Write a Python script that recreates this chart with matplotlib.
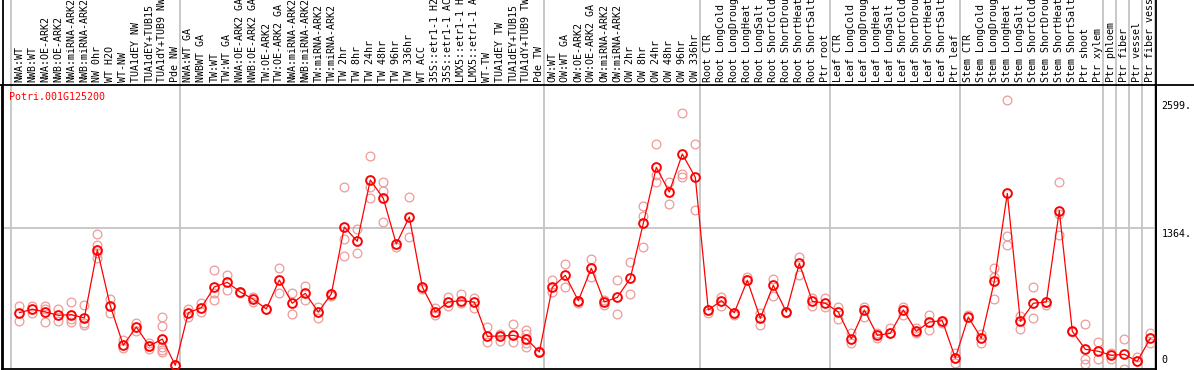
import numpy as np
import matplotlib.pyplot as plt

# column labels (top strip, clipped at top like the original)
labels = ['NWA:WT', 'NWB:WT', 'NWA:OE-ARK2', 'NWB:OE-ARK2', 'NWA:miRNA-ARK2', 'NWB:miRNA-ARK2',
          'NW 0hr', 'WT H2O', 'WT-NW', 'TUA1dEY NW', 'TUA1dEY+TUB15', 'TUA1dY+TUB9 NW', 'Pde NW',
          'NWA:WT GA', 'NWBWT GA', 'TW:WT', 'TW:WT GA', 'NWA:OE-ARK2 GA', 'NWB:OE-ARK2 GA',
          'TW:OE-ARK2', 'TW:OE-ARK2 GA', 'NWA:miRNA-ARK2', 'NWB:miRNA-ARK2', 'TW:miRNA-ARK2',
          'TW:miRNA-ARK2', 'TW 2hr', 'TW 8hr', 'TW 24hr', 'TW 48hr', 'TW 96hr', 'TW 336hr',
          'WT ACC', '35S::etr1-1 H2', '35S::etr1-1 AC', 'LMX5::etr1-1 H', 'LMX5::etr1-1 A',
          'WT-TW', 'TUA1dEY TW', 'TUA1dEY+TUB15', 'TUA1dY+TUB9 TW', 'Pde TW',
          'OW:WT', 'OW:WT GA', 'OW:OE-ARK2', 'OW:OE-ARK2 GA', 'OW:miRNA-ARK2', 'OW:miRNA-ARK2',
          'OW 2hr', 'OW 8hr', 'OW 24hr', 'OW 48hr', 'OW 96hr', 'OW 336hr',
          'Root CTR', 'Root LongCold', 'Root LongDroug', 'Root LongHeat', 'Root LongSalt',
          'Root ShortCold', 'Root ShortDrou', 'Root ShortHeat', 'Root ShortSalt', 'Ptr root',
          'Leaf CTR', 'Leaf LongCold', 'Leaf LongDroug', 'Leaf LongHeat', 'Leaf LongSalt',
          'Leaf ShortCold', 'Leaf ShortDrou', 'Leaf ShortHeat', 'Leaf ShortSalt', 'Ptr leaf',
          'Stem CTR', 'Stem LongCold', 'Stem LongDroug', 'Stem LongHeat', 'Stem LongSalt',
          'Stem ShortCold', 'Stem ShortDrou', 'Stem ShortHeat', 'Stem ShortSalt', 'Ptr shoot',
          'Ptr xylem', 'Ptr phloem', 'Ptr fiber', 'Ptr vessel', 'Ptr fiber vess']

group_sizes = [13, 28, 12, 10, 10, 11, 1, 1, 1, 1]

means = [543, 576, 550, 518, 524, 492, 1148, 608, 229, 405, 222, 289, 36,
         543, 591, 791, 836, 743, 672, 579, 858, 634, 730, 550, 723, 1369, 1232, 1823, 1646,
         1206, 1466, 791, 550, 646, 659, 646, 315, 318, 325, 292, 164,
         788, 904, 659, 971, 646, 691, 875, 1405, 1945, 1707, 2073, 1849,
         569, 659, 543, 855, 489, 807, 550, 1019, 653, 634,
         550, 292, 569, 325, 344, 569, 364, 453, 466, 106,
         501, 296, 846, 1694, 460, 634, 646, 1527, 364, 190, 171,
         132, 142, 74, 296]

reps = [[608, 460], [608, 537], [608, 582, 453], [576, 460], [646, 485, 453],
        [614, 441, 427], [1302, 1196, 1116, 1068], [672, 537], [280, 203], [441, 369],
        [248, 196], [499, 412, 215, 183, 164], [36, 36],
        [582, 499], [634, 553], [952, 736, 665], [907, 762], [743, 733], [697, 646],
        [579, 579], [974, 733], [730, 530], [800, 665], [595, 492], [704, 723],
        [1752, 1254, 1090], [1347, 1116], [2054, 1758, 1646], [1803, 1714, 1415],
        [1179, 1206], [1659, 1270], [772, 791], [585, 518], [691, 608], [723, 634],
        [685, 585], [402, 260], [338, 273], [431, 260], [376, 338, 248, 209], [171, 164],
        [858, 743], [1013, 788], [634, 659], [1058, 884], [665, 617], [855, 530],
        [1032, 723], [1572, 1476, 1174], [2170, 1868, 1806], [1806, 1591],
        [2466, 1881, 1855], [2170, 1533],
        [543, 569], [691, 608], [518, 543], [890, 855], [537, 427], [871, 704], [537, 550],
        [1077, 904], [685, 608], [685, 595],
        [601, 479], [344, 248], [595, 504], [344, 302], [395, 344], [595, 518], [395, 344],
        [518, 376], [441, 466], [151, 61],
        [518, 501], [338, 254], [974, 884, 678], [2599, 1283, 1193], [511, 383], [788, 495],
        [620, 646], [1801, 1495, 1295], [354, 364], [434, 99, 48], [257, 94],
        [151, 99], [286, 0], [113, 74], [350, 248]]

ytick_vals = [2599, 1364, 0]

mono = 'DejaVu Sans Mono'
fs = 7.2
grid_c = '#c4c4c4'
pink = '#ee9a9a'

fig = plt.figure(figsize=(11.94, 3.70), dpi=100)
W, H = 1194.0, 370.0

x = np.arange(len(means))
xl = (-1.331, 87.438)
bounds = np.concatenate([[0], np.cumsum(group_sizes)]) - 0.638

# main plot area
ax = fig.add_axes([2 / W, 1 / H, 1154 / W, 284 / H])
ax.set_xlim(*xl)
ax.set_ylim(0, 2739)
for b in bounds:
    ax.axvline(b, color=grid_c, lw=1.3, zorder=0)
ax.axhline(1364, color=grid_c, lw=1.3, zorder=0)

for i, r in enumerate(reps):
    ax.plot([i] * len(r), r, 'o', ms=6.3, mfc='none', mec=pink, mew=0.9, zorder=2)
ax.plot(x, means, '-', color='red', lw=0.9, zorder=3)
ax.plot(x, means, 'o', ms=6.3, mfc='none', mec='red', mew=1.4, zorder=4)

ax.set_xticks([])
ax.set_yticks([])
for s in ['top', 'right']:
    ax.spines[s].set_visible(False)
ax.spines['left'].set_linewidth(1.3)
ax.spines['bottom'].set_linewidth(1.3)
ax.axvline(xl[1], color='black', lw=1.3, zorder=5, clip_on=False)

ax.text(0.0063, 0.975, 'Potri.001G125200', transform=ax.transAxes, color='red',
        family=mono, fontsize=fs, va='top', ha='left')

for v in ytick_vals:
    va = 'bottom' if v == 0 else 'top'
    dy = 4 if v == 0 else -1
    ax.annotate(('%d.' % v) if v else '0', xy=(1.0, v), xycoords=('axes fraction', 'data'),
                xytext=(5.5, dy), textcoords='offset pixels', family=mono, fontsize=fs,
                va=va, ha='left', annotation_clip=False)

# header with rotated sample names
hx = fig.add_axes([2 / W, 285 / H, 1154 / W, 85 / H])
hx.set_xlim(*xl)
hx.set_ylim(0, 85)
hx.axis('off')
for b in bounds:
    hx.axvline(b, color=grid_c, lw=1.3, zorder=0)
for i, lab in enumerate(labels):
    hx.text(i, 2.5, lab, rotation=90, ha='center', va='bottom', family=mono,
            fontsize=fs, clip_on=False)

# frame lines of the header strip
fig.add_artist(plt.Line2D([0, 1], [1 - 85 / H, 1 - 85 / H], color='black', lw=1.3))
fig.add_artist(plt.Line2D([1156 / W, 1156 / W], [0, 1], color='black', lw=1.3))
fig.add_artist(plt.Line2D([2.5 / W, 2.5 / W], [0, 1], color='black', lw=1.3))

fig.savefig('out.png', dpi=100)
